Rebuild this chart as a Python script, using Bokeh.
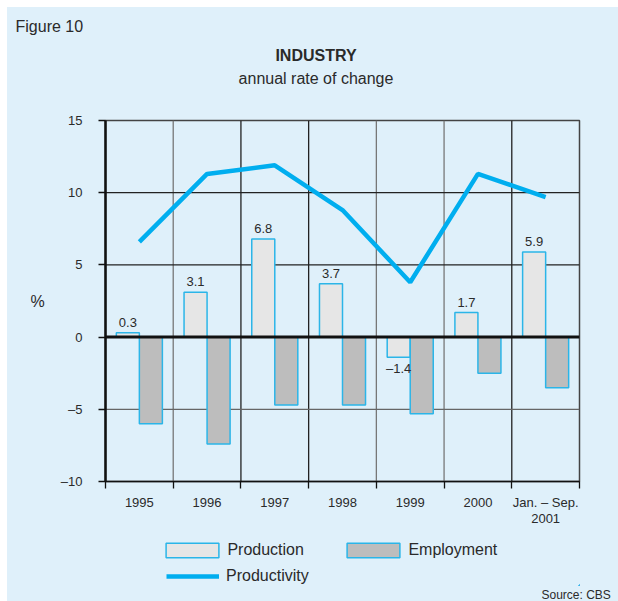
from bokeh.plotting import figure
from bokeh.layouts import column
from bokeh.models import Range1d, FixedTicker, Span, Label, Legend, LegendItem, Title
from bokeh.core.properties import value
from bokeh.embed import file_html
from bokeh.resources import INLINE

# ---- data ----
categories = ["1995", "1996", "1997", "1998", "1999", "2000", "Jan. – Sep.\n2001"]
production = [0.3, 3.1, 6.8, 3.7, -1.4, 1.7, 5.9]
employment = [-6.0, -7.4, -4.7, -4.7, -5.3, -2.5, -3.5]
productivity = [6.6, 11.3, 11.9, 8.8, 3.8, 11.3, 9.7]
y_ticks = [-10, -5, 0, 5, 10, 15]

# ---- style ----
BG = "#DFF0FA"
CYAN = "#00AEEF"
BAR_LINE = "#2BB5E8"
PROD_FILL = "#E6E6E6"
EMP_FILL = "#BDBDBD"
TXT = "#2a2a2a"
FONT = "Liberation Sans"
BW = 0.34
W = 611

n = len(categories)
centers = [i + 0.5 for i in range(n)]
bounds = list(range(n + 1))


def blank(h, xr=(0, 1), yr=(0, 1)):
    f = figure(width=W, height=h, output_backend="svg", toolbar_location=None,
               x_range=Range1d(*xr), y_range=Range1d(*yr),
               min_border=0, x_axis_location=None, y_axis_location=None,
               outline_line_color=None, background_fill_color=BG, border_fill_color=BG)
    f.grid.visible = False
    f.title.visible = False
    return f


def lab(f, x, y, t, size, bold=False, align="left", base="middle"):
    f.add_layout(Label(x=x, y=y, x_units="screen", y_units="screen", text=t,
                       text_font=FONT, text_font_size=size, text_color=TXT,
                       text_font_style="bold" if bold else "normal",
                       text_align=align, text_baseline=base))


def title(f, t, side, offset, size, standoff=0, bold=False):
    f.add_layout(Title(text=t, align="left", offset=offset, standoff=standoff,
                       text_font=FONT, text_font_size=size, text_color=TXT,
                       text_font_style="bold" if bold else "normal"), side)


# ---- header ----
head = blank(103)
title(head, "Figure 10", "above", -90, "16px", standoff=17)
lab(head, 210.5, 55.5, "INDUSTRY", "16px", bold=True, align="center", base="alphabetic")
lab(head, 210.5, 32.5, "annual rate of change", "16px", align="center", base="alphabetic")

# ---- main chart ----
p = figure(width=W, height=426, output_backend="svg", toolbar_location=None,
           x_range=Range1d(0, n), y_range=Range1d(y_ticks[0], y_ticks[-1]),
           min_border_left=98, min_border_right=39, min_border_top=10, min_border_bottom=55,
           background_fill_color=BG, border_fill_color=BG,
           outline_line_color="#444444", outline_line_width=1.5)
p.xgrid.visible = False
p.ygrid.visible = False

vcolors = ["#777777", "#222222", "#222222", "#777777", "#777777", "#222222"]
for b, c in zip(bounds[1:-1], vcolors):
    p.add_layout(Span(location=b, dimension="height", line_color=c, line_width=1.3, level="underlay"))
hcolors = {5: "#222222", 10: "#222222", -5: "#666666"}
for t in y_ticks[1:-1]:
    if t == 0:
        continue
    p.add_layout(Span(location=t, dimension="width", line_color=hcolors[t], line_width=1.3, level="underlay"))

bar_prod = dict(fill_color=PROD_FILL, line_color=BAR_LINE, line_width=1.5)
bar_emp = dict(fill_color=EMP_FILL, line_color=BAR_LINE, line_width=1.5)
line_sty = dict(line_color=CYAN, line_width=4.5)
x_prod = [c - BW / 2 for c in centers]
x_emp = [c + BW / 2 for c in centers]

p.vbar(x=x_prod, top=production, bottom=0, width=BW, **bar_prod)
p.vbar(x=x_emp, top=employment, bottom=0, width=BW, **bar_emp)
p.add_layout(Span(location=0, dimension="width", line_color="#111111", line_width=3))
p.line(x=centers, y=productivity, **line_sty)

pos = [(c, v) for c, v in zip(x_prod, production) if v >= 0]
neg = [(c, v) for c, v in zip(x_prod, production) if v < 0]
fmt = lambda v: f"{v:.1f}".replace("-", "–")
p.text(x=[a for a, _ in pos], y=[b for _, b in pos], text=[fmt(b) for _, b in pos],
       text_align="center", text_baseline="bottom", y_offset=-6,
       text_font=value(FONT), text_font_size="13px", text_color=TXT)
p.text(x=[a for a, _ in neg], y=[b for _, b in neg], text=[fmt(b) for _, b in neg],
       text_align="center", text_baseline="top", y_offset=4,
       text_font=value(FONT), text_font_size="13px", text_color=TXT)

xa = p.xaxis[0]
xa.ticker = FixedTicker(ticks=centers, minor_ticks=bounds)
xa.major_label_overrides = {c: l for c, l in zip(centers, categories)}
xa.major_tick_in = 0
xa.major_tick_out = 0
xa.minor_tick_in = 0
xa.minor_tick_out = 7
xa.minor_tick_line_color = "#111111"
xa.minor_tick_line_width = 1.3
xa.axis_line_color = "#111111"
xa.axis_line_width = 1.5
xa.major_label_standoff = 6
xa.major_label_text_font = FONT
xa.major_label_text_font_size = "13px"
xa.major_label_text_line_height = 1.1
xa.major_label_text_color = TXT

ya = p.yaxis[0]
ya.ticker = FixedTicker(ticks=y_ticks)
ya.major_label_overrides = {t: fmt(t).replace(".0", "") for t in y_ticks}
ya.major_tick_in = 0
ya.major_tick_out = 7
ya.major_tick_line_color = "#111111"
ya.major_tick_line_width = 1.3
ya.minor_tick_line_color = None
ya.axis_line_color = "#111111"
ya.axis_line_width = 2.5
ya.major_label_standoff = 16
ya.major_label_text_font = FONT
ya.major_label_text_font_size = "13px"
ya.major_label_text_color = TXT
ya.axis_label = "%"
ya.axis_label_orientation = "horizontal"
ya.axis_label_standoff = 13
ya.axis_label_text_font = FONT
ya.axis_label_text_font_size = "16px"
ya.axis_label_text_font_style = "normal"
ya.axis_label_text_color = TXT

# ---- footer with legend (same series, ranges kept off their values so only the keys show) ----
foot = blank(65, xr=(-2, -1), yr=(100, 101))
d_prod = foot.vbar(x=x_prod, top=production, bottom=0, width=BW, **bar_prod)
d_emp = foot.vbar(x=x_emp, top=employment, bottom=0, width=BW, **bar_emp)
d_line = foot.line(x=centers, y=productivity, **line_sty)
leg_common = dict(orientation="horizontal", spacing=0, padding=0, margin=0,
                  border_line_alpha=0, background_fill_alpha=0,
                  label_text_font=FONT, label_text_font_size="16px", label_text_color=TXT)
leg1 = Legend(items=[LegendItem(label="Production", renderers=[d_prod], index=0),
                     LegendItem(label="Employment", renderers=[d_emp], index=0)],
              location=(54.4, 26), glyph_width=66, glyph_height=18,
              label_standoff=2, label_width=113, label_height=18, **leg_common)
leg2 = Legend(items=[LegendItem(label="Productivity", renderers=[d_line])],
              location=(61, 0), glyph_width=53, glyph_height=14,
              label_standoff=7, label_height=14, **leg_common)
foot.add_layout(leg1, "center")
foot.add_layout(leg2, "center")
title(foot, "Source: CBS", "below", 436, "12px", standoff=0)

layout = column(head, p, foot, spacing=0, margin=(7, 0, 0, 7), styles={"background-color": BG})
open("out.html", "w").write(file_html(layout, INLINE))
